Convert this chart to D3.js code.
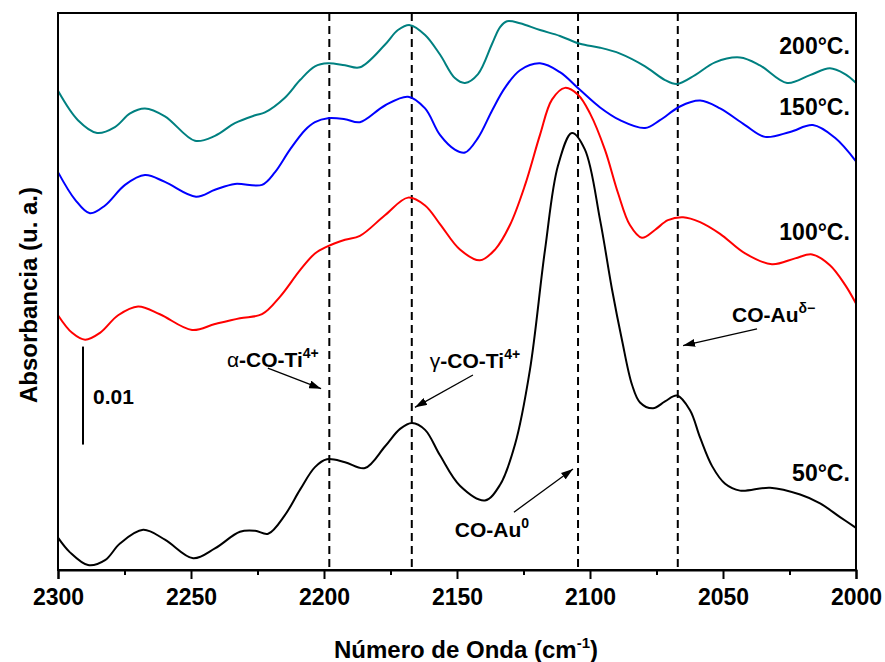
<!DOCTYPE html>
<html>
<head>
<meta charset="utf-8">
<script src="https://cdn.jsdelivr.net/npm/d3@7"></script>
<style>
  body { margin: 0; background: #fff; }
  svg text { font-family: "Liberation Sans", Arial, sans-serif; font-weight: bold; fill: #000; }
</style>
</head>
<body>
<svg id="chart" width="885" height="662"></svg>
<script>
// Wavenumber (cm-1) and absorbance values
const wn50 = [2300, 2295.5, 2288.7, 2282.3, 2276.7, 2268, 2259.8, 2249.2, 2241, 2231.6,
  2225.9, 2221, 2214.7, 2209, 2203.4, 2198.9, 2192.1, 2184.6, 2177.1, 2171.4,
  2166.9, 2162, 2156.4, 2148.9, 2139.5, 2133.8, 2128.2, 2122.6, 2116.9, 2112,
  2106.8, 2101.9, 2096.2, 2091.7, 2088, 2084.2, 2081.2, 2076.3, 2071.8, 2067.3,
  2062.4, 2058.6, 2054.1, 2049.2, 2043.6, 2032.3, 2021, 2013.5, 2006, 2000];
const abs50 = [0.0033, 0.0018, 0.0005, 0.0010, 0.0027, 0.0041, 0.0031, 0.0012, 0.0022, 0.0039,
  0.0040, 0.0037, 0.0056, 0.0082, 0.0105, 0.0113, 0.0110, 0.0104, 0.0126, 0.0144,
  0.0150, 0.0143, 0.0117, 0.0086, 0.0071, 0.0087, 0.0128, 0.0204, 0.0327, 0.0413,
  0.0446, 0.0429, 0.0357, 0.0286, 0.0235, 0.0189, 0.0171, 0.0165, 0.0172, 0.0178,
  0.0163, 0.0135, 0.0106, 0.0088, 0.0081, 0.0084, 0.0077, 0.0068, 0.0054, 0.0043];

const wn100 = [2300, 2294.7, 2289.8, 2284.2, 2277.4, 2269.9, 2261.7, 2249.6, 2241, 2231.6,
  2223.3, 2216.5, 2209, 2203.4, 2198.9, 2192.1, 2186.5, 2177.1, 2168.4, 2162,
  2156.4, 2148.9, 2141.4, 2135.7, 2130.1, 2124.4, 2118.8, 2114.3, 2109.4, 2104.5,
  2100, 2094.4, 2089.5, 2085, 2080.5, 2075.6, 2070.7, 2065, 2058.6, 2051.1,
  2041.7, 2031.6, 2022.9, 2016.5, 2009.8, 2004.1, 2000];
const abs100 = [0.0260, 0.0242, 0.0235, 0.0242, 0.0260, 0.0269, 0.0261, 0.0245, 0.0251, 0.0257,
  0.0261, 0.0279, 0.0306, 0.0323, 0.0330, 0.0337, 0.0341, 0.0362, 0.0380, 0.0372,
  0.0353, 0.0327, 0.0316, 0.0327, 0.0352, 0.0393, 0.0444, 0.0480, 0.0492, 0.0485,
  0.0466, 0.0429, 0.0385, 0.0352, 0.0339, 0.0347, 0.0357, 0.0360, 0.0355, 0.0343,
  0.0323, 0.0312, 0.0318, 0.0322, 0.0311, 0.0291, 0.0272];

const wn150 = [2300, 2293.6, 2288, 2282.3, 2274.8, 2267.3, 2259.8, 2248.1, 2241, 2233.5,
  2223.3, 2218.4, 2212.8, 2207.1, 2203.4, 2198.5, 2192.1, 2186.5, 2177.1, 2168.4,
  2162, 2156.4, 2150.8, 2147, 2142.1, 2136.8, 2132, 2126.3, 2118.8, 2111.3,
  2103.8, 2096.2, 2088.7, 2079.3, 2073.7, 2066.2, 2058.6, 2051.1, 2041.7, 2034.2,
  2024.8, 2016.2, 2007.9, 2000];
const abs150 = [0.0406, 0.0378, 0.0364, 0.0372, 0.0393, 0.0403, 0.0396, 0.0381, 0.0388, 0.0394,
  0.0393, 0.0406, 0.0429, 0.0449, 0.0457, 0.0461, 0.0460, 0.0457, 0.0474, 0.0483,
  0.0471, 0.0444, 0.0429, 0.0426, 0.0441, 0.0469, 0.0492, 0.0510, 0.0517, 0.0508,
  0.0490, 0.0472, 0.0459, 0.0451, 0.0459, 0.0473, 0.0479, 0.0471, 0.0454, 0.0442,
  0.0447, 0.0454, 0.0441, 0.0417];

const wn200 = [2300, 2292.5, 2285.3, 2278.6, 2272.9, 2267.3, 2259.8, 2248.5, 2241, 2233.5,
  2225.9, 2222.2, 2214.7, 2209, 2203.4, 2198.5, 2192.1, 2186.5, 2177.1, 2172.2,
  2167.7, 2162, 2156.4, 2150.8, 2147, 2142.1, 2136.8, 2133.8, 2131.2, 2126.3, 2118.8,
  2111.3, 2103.8, 2096.2, 2088.7, 2079.3, 2071.8, 2067.3, 2060.5, 2053, 2043.6,
  2036.1, 2025.9, 2017.3, 2009.8, 2004.1, 2000];
const abs200 = [0.0489, 0.0459, 0.0446, 0.0452, 0.0466, 0.0471, 0.0463, 0.0438, 0.0443, 0.0456,
  0.0464, 0.0467, 0.0482, 0.0500, 0.0514, 0.0517, 0.0515, 0.0513, 0.0536, 0.0551,
  0.0556, 0.0546, 0.0526, 0.0502, 0.0497, 0.0506, 0.0537, 0.0554, 0.0560, 0.0558, 0.0551,
  0.0545, 0.0537, 0.0533, 0.0527, 0.0514, 0.0500, 0.0496, 0.0505, 0.0518, 0.0523,
  0.0515, 0.0497, 0.0505, 0.0512, 0.0506, 0.0497];

const seriesNames = ["50°C.", "100°C.", "150°C.", "200°C."];
const seriesColors = ["#000000", "#ff0000", "#0000ff", "#008080"];
// where each temperature label sits (absorbance of its baseline)
const labelAbs = [0.0091, 0.0337, 0.0464, 0.0527];

// reference positions of the dashed band markers
const bandLines = [2198, 2167, 2104.5, 2067];

const majorTicks = [2300, 2250, 2200, 2150, 2100, 2050, 2000];
const minorTicks = [2275, 2225, 2175, 2125, 2075, 2025];

// band assignments: label position and arrow from -> to (wavenumber, absorbance)
const annotations = [
  { main: "-CO-Ti", greek: "α", sup: "4+", wn: 2236.5, a: 0.0207, from: [2221.1, 0.0206], to: [2201.1, 0.0185] },
  { main: "-CO-Ti", greek: "γ", sup: "4+", wn: 2160.2, a: 0.0206, from: [2144, 0.0199], to: [2165.8, 0.0166] },
  { main: "CO-Au", greek: "", sup: "δ−", wn: 2046.6, a: 0.0253, from: [2037.2, 0.0246], to: [2065, 0.0229] },
  { main: "CO-Au", greek: "", sup: "0", wn: 2150.8, a: 0.0034, from: [2128.6, 0.0059], to: [2106.4, 0.0103] }
];

// 0.01 absorbance scale bar
const scaleBar = { wn: 2290.6, start: 0.0128, length: 0.01, label: "0.01" };

const svg = d3.select("#chart");
const plotLeft = 58, plotRight = 856, plotTop = 13, plotBottom = 570;

const x = d3.scaleLinear().domain([2300, 2000]).range([plotLeft, plotRight]);
const y = d3.scaleLinear().domain([0, 0.05684]).range([plotBottom, plotTop]);

const series = [
  { wn: wn50, abs: abs50 },
  { wn: wn100, abs: abs100 },
  { wn: wn150, abs: abs150 },
  { wn: wn200, abs: abs200 }
].map((s, i) => ({
  name: seriesNames[i],
  color: seriesColors[i],
  labelAbs: labelAbs[i],
  values: s.wn.map((w, j) => ({ wn: w, a: s.abs[j] }))
}));

// arrow marker
svg.append("defs").append("marker")
  .attr("id", "arrow")
  .attr("viewBox", "0 0 12 8")
  .attr("refX", 12).attr("refY", 4)
  .attr("markerWidth", 12).attr("markerHeight", 8)
  .attr("markerUnits", "userSpaceOnUse")
  .attr("orient", "auto")
  .append("path")
  .attr("d", "M0,0 L12,4 L0,8 Z")
  .attr("fill", "#000");

// dashed band lines
svg.selectAll(".band")
  .data(bandLines)
  .enter().append("line")
  .attr("class", "band")
  .attr("x1", d => x(d)).attr("x2", d => x(d))
  .attr("y1", plotTop).attr("y2", plotBottom)
  .attr("stroke", "#000")
  .attr("stroke-width", 2)
  .attr("stroke-dasharray", "8,5");

// spectra
const lineGen = d3.line()
  .x(d => x(d.wn))
  .y(d => y(d.a))
  .curve(d3.curveCatmullRom.alpha(0.5));

svg.selectAll(".spectrum")
  .data(series)
  .enter().append("path")
  .attr("class", "spectrum")
  .attr("fill", "none")
  .attr("stroke", d => d.color)
  .attr("stroke-width", 2)
  .attr("d", d => lineGen(d.values));

// temperature labels
svg.selectAll(".temp-label")
  .data(series)
  .enter().append("text")
  .attr("class", "temp-label")
  .attr("x", x(2002.3))
  .attr("y", d => y(d.labelAbs))
  .attr("text-anchor", "end")
  .attr("font-size", "23px")
  .text(d => d.name);

// frame
svg.append("rect")
  .attr("x", plotLeft).attr("y", plotTop)
  .attr("width", plotRight - plotLeft).attr("height", plotBottom - plotTop)
  .attr("fill", "none")
  .attr("stroke", "#000")
  .attr("stroke-width", 2);

// x axis
const xAxis = d3.axisBottom(x)
  .tickValues(majorTicks)
  .tickSize(9)
  .tickPadding(10)
  .tickFormat(d3.format("d"));

const gx = svg.append("g")
  .attr("transform", `translate(0,${plotBottom})`)
  .call(xAxis);
gx.select(".domain").attr("stroke-width", 2);
gx.selectAll(".tick line").attr("stroke-width", 2);
gx.selectAll(".tick text")
  .attr("font-size", "23px")
  .attr("font-family", "Liberation Sans, Arial, sans-serif")
  .attr("font-weight", "bold");

const gMinor = svg.append("g")
  .attr("transform", `translate(0,${plotBottom})`)
  .call(d3.axisBottom(x).tickValues(minorTicks).tickSize(5).tickFormat(""));
gMinor.select(".domain").remove();
gMinor.selectAll(".tick line").attr("stroke-width", 2);

// axis titles
const xt = svg.append("text")
  .attr("x", (plotLeft + plotRight) / 2 + 9)
  .attr("y", 658)
  .attr("text-anchor", "middle")
  .attr("font-size", "24px")
  .text("Número de Onda (cm");
xt.append("tspan").attr("dy", -10).attr("font-size", "15px").text("-1");
xt.append("tspan").attr("dy", 10).text(")");

svg.append("text")
  .attr("transform", "translate(37,295) rotate(-90)")
  .attr("text-anchor", "middle")
  .attr("font-size", "24px")
  .text("Absorbancia (u. a.)");

// scale bar
svg.append("line")
  .attr("x1", x(scaleBar.wn)).attr("x2", x(scaleBar.wn))
  .attr("y1", y(scaleBar.start)).attr("y2", y(scaleBar.start + scaleBar.length))
  .attr("stroke", "#000")
  .attr("stroke-width", 2);
svg.append("text")
  .attr("x", x(scaleBar.wn) + 10)
  .attr("y", y(scaleBar.start + scaleBar.length / 2) + 8)
  .attr("font-size", "21px")
  .text(scaleBar.label);

// band annotations
annotations.forEach(an => {
  const t = svg.append("text")
    .attr("x", x(an.wn))
    .attr("y", y(an.a))
    .attr("font-size", "21px");
  if (an.greek) t.append("tspan").attr("font-weight", "normal").text(an.greek);
  t.append("tspan").text(an.main);
  t.append("tspan").attr("dy", -9).attr("font-size", "14px").text(an.sup);

  svg.append("line")
    .attr("x1", x(an.from[0])).attr("y1", y(an.from[1]))
    .attr("x2", x(an.to[0])).attr("y2", y(an.to[1]))
    .attr("stroke", "#000")
    .attr("stroke-width", 1.3)
    .attr("marker-end", "url(#arrow)");
});
</script>
</body>
</html>
